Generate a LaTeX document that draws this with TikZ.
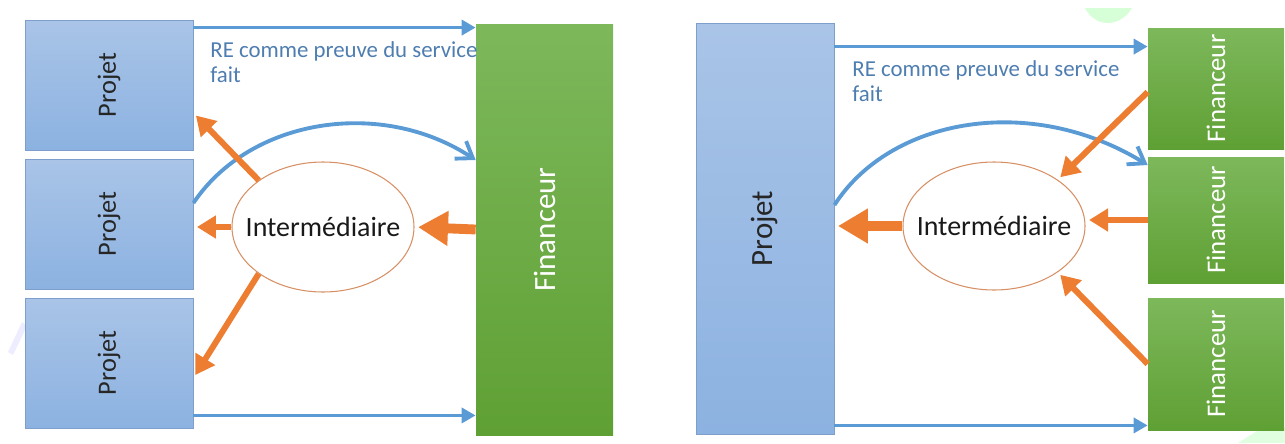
\documentclass[tikz,border=0pt]{standalone}
\usepackage{fontspec}
\setmainfont{Carlito}
\usetikzlibrary{shapes,arrows.meta}

\def\px{0.02cm}
\definecolor{projtop}{HTML}{A9C4E7}
\definecolor{projbot}{HTML}{8CB2E1}
\definecolor{projline}{HTML}{7E9FCB}
\definecolor{fintop}{HTML}{7DB85B}
\definecolor{finbot}{HTML}{5FA034}
\definecolor{flowblue}{HTML}{5B9BD5}
\definecolor{reblue}{HTML}{4E7DB0}
\definecolor{flowor}{HTML}{ED7D31}
\definecolor{interline}{HTML}{D79065}

\tikzset{
  projet/.style={draw=projline, line width=0.5pt, top color=projtop, bottom color=projbot, inner sep=0pt, text=black!85},
  financeur/.style={top color=fintop, bottom color=finbot, inner sep=0pt, text=white},
  inter/.style={ellipse, draw=interline, line width=0.6pt, fill=white, minimum width=182*\px, minimum height=130*\px},
  intertext/.style={inner sep=0pt, font=\fontsize{15.9}{18}\selectfont, text=black!90},
  retext/.style={inner sep=0pt, align=left, text=reblue, font=\fontsize{13}{14.2}\selectfont},
  bluearrow/.style={draw=flowblue, line width=2.2pt, -{Triangle[length=0.28cm, width=0.3cm]}},
  bluecurve/.style={draw=flowblue, line width=2.2pt, -{Straight Barb[length=0.3cm, width=0.42cm, line width=2.2pt]}},
  orthin/.style={draw=flowor, line width=3.4pt, shorten >=2pt, -{Triangle[length=0.38cm, width=0.44cm]}},
  orthick/.style={draw=flowor, line width=5.6pt, shorten >=2pt, -{Triangle[length=0.6cm, width=0.66cm]}}
}

\begin{document}
\begin{tikzpicture}[x=0.02cm, y=-0.02cm]
\useasboundingbox (0,0) rectangle (1285,443);
% faint watermark marks
\fill[green!45!white, opacity=0.35] (1085,8) .. controls (1095,28) and (1120,28) .. (1132,8) -- cycle;
\fill[green!40!white, opacity=0.3] (1238,443) -- (1262,428) -- (1285,428) -- (1285,443) -- cycle;
\fill[blue!20!white, opacity=0.35] (8,352) -- (22,322) -- (27,326) -- (13,355) -- cycle;

% left: three projets and one financeur
\foreach \i/\y in {1/85,2/224,3/363} {
  \node[projet, minimum width=168*\px, minimum height=130*\px] (p\i) at (109,\y) {\rotatebox{90}{\fontsize{15}{18}\selectfont Projet}};
}
\node[financeur, minimum width=137*\px, minimum height=411*\px] (fin) at (544.5,229.5) {\rotatebox{90}{\fontsize{17.6}{20}\selectfont Financeur}};
\node[inter] (im1) at (323,227) {};
\node[intertext] (im1t) at (im1) {Intermédiaire};
\node[retext, anchor=base west] (re1) at (210,82) {RE comme preuve du service\\fait};

\coordinate (a1) at ([yshift=-8*\px]p1.north east);
\coordinate (b1) at ([yshift=13*\px]p3.south east);
\coordinate (c1) at ([yshift=21*\px]p2.east);
\coordinate (d1) at ([yshift=69.5*\px]fin.west);
\draw[bluearrow] (a1) -- (a1 -| fin.west);
\draw[bluearrow] (b1) -- (b1 -| fin.west);
\draw[bluecurve] (c1) .. controls +(57,-85) and +(-94,-62) .. (d1);
\draw[orthin] (im1.144) -- ([yshift=-28*\px]p1.east);
\draw[orthin] (im1.west) -- (im1.west -| p2.east);
\draw[orthin] (im1.216) -- ([yshift=-15*\px]p3.east);
\draw[orthick] (fin.west) -- (im1.east);

% right: one projet and three financeurs
\node[projet, minimum width=138*\px, minimum height=411*\px] (pr) at (765,228.5) {\rotatebox{90}{\fontsize{17.6}{20}\selectfont Projet}};
\foreach \i/\y/\h in {1/88.5/121,2/220/126,3/364/132} {
  \node[financeur, minimum width=136*\px, minimum height=\h*\px] (f\i) at (1216,\y) {\rotatebox{90}{\fontsize{15.3}{18}\selectfont Financeur}};
}
\node[inter, minimum height=128*\px] (im2) at (994,226) {};
\node[intertext] (im2t) at (im2) {Intermédiaire};
\node[retext, anchor=base west] (re2) at (852,101) {RE comme preuve du service\\fait};

\coordinate (a2) at ([yshift=-24*\px]pr.north east);
\coordinate (b2) at ([yshift=9*\px]pr.south east);
\coordinate (c2) at ([yshift=23.5*\px]pr.east);
\coordinate (d2) at ([yshift=55*\px]f2.west);
\draw[bluearrow] (a2) -- (a2 -| f1.west);
\draw[bluearrow] (b2) -- (b2 -| f3.west);
\draw[bluecurve] (c2) .. controls +(56,-87) and +(-117,-72) .. (d2);
\draw[orthin] ([yshift=-3.5*\px]f1.west) -- (im2.36);
\draw[orthin] (f2.west) -- (f2.west -| im2.east);
\draw[orthin] (f3.west) -- (im2.-36);
\draw[orthick] (im2.west) -- (im2.west -| pr.east);
\end{tikzpicture}
\end{document}
